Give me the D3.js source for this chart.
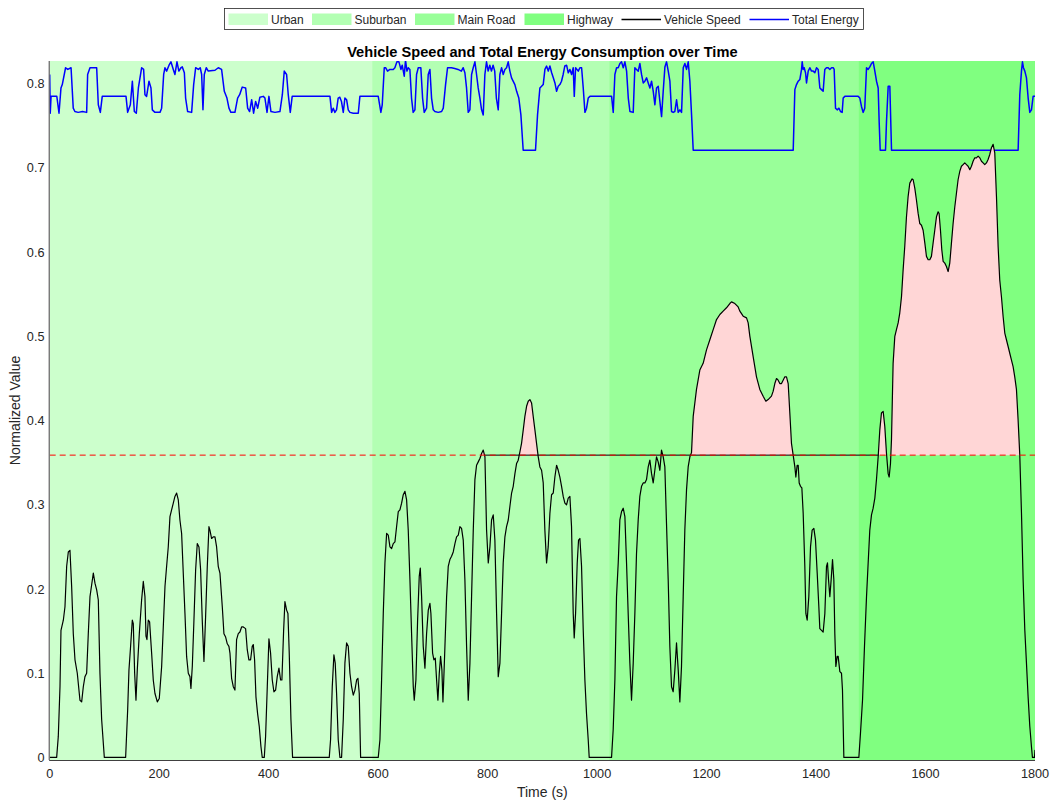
<!DOCTYPE html>
<html>
<head>
<meta charset="utf-8">
<script src="https://cdn.jsdelivr.net/npm/d3@7"></script>
<style>
  html, body { margin: 0; padding: 0; background: #fff; }
  svg { display: block; font-family: "Liberation Sans", Arial, Helvetica, sans-serif; }
</style>
</head>
<body>
<svg id="chart" width="1054" height="801"></svg>
<script>
// Driving zones along the trip
const zoneNames  = ["Urban", "Suburban", "Main Road", "Highway"];
const zoneStart  = [0, 589, 1022, 1477];
const zoneEnd    = [589, 1022, 1477, 1800];
const zoneColors = ["#ccffcc", "#b3ffb3", "#99ff99", "#80ff80"];

// Speed threshold (normalized)
const speedThreshold = 0.359;
const thresholdOutlineSpan = [795, 1514];

// Normalized vehicle speed
const speedTime = [0,12.7,15.7,18.8,20.6,24.9,27.9,31,34,37,40.1,43.1,46.2,50.4,55.3,58.4,61.4,64.4,67.5,70.5,73.6,79.7,82.7,85.8,88.8,91.8,94.9,99.8,
138.7,142.4,144.8,147.8,150.9,152.7,155.2,157.6,160,163.7,167.9,171,174,175.9,177.7,180.1,182.5,186.2,189.2,192.3,196.6,200.2,204.5,207.5,210.6,213.6,216.6,219.7,222.7,225.8,228.8,231.9,234.9,237.9,241,244,247.1,250.1,253.2,256.2,258,260.5,263.5,266.6,269.6,272.7,275.7,278.7,281.8,284.8,287.9,290.9,292.7,295.8,298.8,301.9,304.9,307.9,311,315.3,318.3,321.4,324.4,327.4,329.3,332.3,335.4,338.4,341.4,344.5,347.5,350.6,353.6,357.9,360.9,363.9,367,370,371.9,374.3,376.8,379.8,382.8,385.9,388.3,
392,394.4,397.5,400.5,403.5,406.6,409.6,412.7,415.7,418.8,421.8,424.2,427.3,429.7,432.8,435.2,437.6,440.7,443.7,
510.7,513.1,516.2,519.2,521.6,524.1,527.1,530.2,533.2,536.3,539.3,542.4,545.4,548.5,551.5,554.6,557.6,560.7,563.1,565.5,568,
600.2,603.3,606.3,609.4,612.4,615.5,618.5,621.6,624.6,627.6,630.7,633.7,636.8,639.8,642.9,645.9,649,652,655,658.1,661.1,664.2,666,669,672.1,675.1,677,679.4,682.4,685.5,688.5,691.6,694.6,696.4,699.5,701.9,704.4,706.8,709.2,711.7,714.1,716.5,718.4,721.4,725.1,728.1,731.1,734.2,737.2,740.3,743.3,746.4,749.4,752.4,755.5,758.5,761.6,764.6,767.7,770.7,773.8,776.8,779.8,782.9,785.9,789,792,795.1,798.1,801.2,804.2,807.2,810.3,813.3,816.4,819.4,822.5,825.5,828.5,831.6,834.6,837.7,840.7,843.8,846.8,849.9,852.9,855.9,859,862,865.1,868.1,871.2,874.2,877.3,880.3,883.3,886.4,889.4,892.5,895.5,898.6,901.6,904.6,907.7,910.7,913.8,916.8,919.9,922.9,926,929,932,935.1,938.1,941.2,944.2,947.3,950.3,953.3,956.4,958.2,960.7,963.7,966.1,968.6,971.6,974.7,977.7,980.7,983.8,985.6,
1026.4,1029.4,1032.5,1035.5,1038.6,1041.6,1044.7,1047.7,1050.8,1053.8,1056.8,1059.9,1062.9,1066,1069,1072,1075.1,1078.1,1081.2,1084.2,1087.3,1090.3,1093.4,1096.4,1099.5,1102.5,1105.5,1108.6,1111.6,1114.7,1117.7,1120.8,1123.8,1126.8,1129.9,1132.9,1136,1139,1142.1,1145.1,1148.2,1151.2,1154.2,1157.3,1160.3,1163.4,1166.4,1169.5,
1172.5,1175.6,1181.6,1187.7,1193.8,1199.9,1206,1212.1,1218.2,1224.3,1230.3,1236.4,1242.5,1245.6,1251.7,1257.7,1260.8,1266.9,1273,1276,1279.1,1285.1,1291.2,1297.3,1303.4,1308.3,1312.5,1318.6,1321.7,1324.7,1327.8,1330.8,1333.8,1336.9,1339.9,1343,1346,1349.1,1352.1,1355.1,1358.2,
1361.3,1363.1,1365.5,1367.4,1369.2,1371.6,1374.1,1376.5,1379.5,1381.4,1383.8,1386.8,1389.9,1392.9,1396,1399,1402.1,1405.1,1406.9,1410,1413,1416.1,1419.1,1420.9,1422.8,1425.2,1427.6,1430.1,1432.5,1434.3,1436.2,1438.6,1440.4,1443.5,1446.5,1448.3,1450.8,
1478.2,1481.2,1484.9,1488.5,1492.2,1495.2,1498.2,1501.3,1504.3,1507.4,1510.4,1513.5,1516.5,1519.5,1522.6,1525.6,1528.7,1531.7,1533.6,1536,1537.8,
1540.8,1543.9,1546.9,1550,1553,1556.1,1559.1,1562.1,1565.2,1568.2,1571.3,1575.5,1577.4,1580.4,1583.4,1586.5,1589.5,1592.6,1595.6,1598.7,1601.7,1604.8,1607.8,1610.8,1613.9,1616.9,1620,1623,1624.8,1627.3,1629.7,1632.2,1635.2,1638.2,1641.3,1644.3,1647.4,1650.4,1653.5,1656.5,1659.5,1662.6,1665.6,1668.7,1671.7,1674.8,1677.8,1680.9,1683.9,1686.9,1690,1693,1696.1,1699.1,1702.2,1705.2,1708.2,1711.3,1714.3,1717.4,1720.4,1723.5,1726.5,1729.6,1732.6,1735.6,1738.7,1741.7,1744.8,1747.8,1750.9,1753.9,1756.9,1760,1763,1766.1,1769.1,1772.2,
1775.3,1778.3,1781.4,1784.4,1787.4,1790.5,1793.5,1795.3,1799,1800];

const speedValue = [0,0,0.025,0.084,0.151,0.163,0.179,0.227,0.244,0.246,0.203,0.147,0.116,0.100,0.068,0.066,0.084,0.096,0.100,0.147,0.191,0.219,0.207,0.199,0.187,0.100,0.045,0,
0,0.056,0.104,0.132,0.163,0.159,0.100,0.068,0.104,0.147,0.187,0.209,0.191,0.144,0.140,0.163,0.161,0.124,0.092,0.076,0.066,0.070,0.108,0.155,0.203,0.227,0.250,0.286,0.294,0.302,0.310,0.314,0.306,0.282,0.266,0.219,0.171,0.120,0.100,0.096,0.082,0.108,0.163,0.223,0.254,0.250,0.223,0.163,0.114,0.167,0.227,0.274,0.270,0.260,0.262,0.262,0.250,0.227,0.219,0.179,0.147,0.143,0.135,0.132,0.124,0.094,0.084,0.080,0.140,0.147,0.149,0.155,0.155,0.153,0.128,0.116,0.116,0.132,0.134,0.116,0.072,0.052,0.037,0.013,0,
0,0.025,0.084,0.141,0.124,0.092,0.078,0.080,0.096,0.106,0.092,0.092,0.150,0.185,0.175,0.171,0.124,0.045,0,
0,0.021,0.084,0.122,0.112,0.076,0.021,0,0,0.045,0.112,0.136,0.132,0.100,0.084,0.074,0.080,0.092,0.094,0.076,0,
0,0.021,0.092,0.171,0.231,0.266,0.264,0.250,0.248,0.254,0.256,0.274,0.292,0.294,0.302,0.312,0.316,0.306,0.270,0.211,0.147,0.084,0.068,0.092,0.163,0.215,0.225,0.191,0.132,0.106,0.147,0.175,0.183,0.171,0.124,0.116,0.118,0.092,0.068,0.100,0.120,0.104,0.066,0.120,0.191,0.227,0.235,0.239,0.244,0.254,0.262,0.264,0.274,0.272,0.258,0.211,0.132,0.068,0.112,0.191,0.270,0.330,0.347,0.351,0.355,0.361,0.365,0.357,0.270,0.231,0.250,0.282,0.288,0.258,0.171,0.096,0.112,0.171,0.231,0.262,0.274,0.282,0.298,0.314,0.322,0.337,0.349,0.353,0.363,0.373,0.389,0.405,0.417,0.423,0.425,0.421,0.405,0.389,0.373,0.357,0.345,0.341,0.326,0.270,0.231,0.250,0.290,0.312,0.314,0.333,0.347,0.341,0.333,0.322,0.310,0.302,0.300,0.308,0.310,0.274,0.171,0.142,0.171,0.231,0.258,0.260,0.227,0.151,0.092,0.052,0.021,0,
0,0.033,0.092,0.191,0.231,0.282,0.292,0.296,0.286,0.231,0.171,0.112,0.068,0.112,0.171,0.242,0.282,0.310,0.322,0.326,0.326,0.330,0.345,0.353,0.337,0.326,0.341,0.357,0.351,0.341,0.365,0.357,0.345,0.278,0.211,0.132,0.084,0.078,0.104,0.136,0.104,0.066,0.108,0.191,0.270,0.318,0.345,0.357,
0.362,0.405,0.437,0.460,0.468,0.484,0.496,0.508,0.520,0.526,0.530,0.534,0.539,0.541,0.539,0.535,0.530,0.524,0.522,0.516,0.500,0.476,0.452,0.437,0.429,0.423,0.425,0.429,0.435,0.444,0.450,0.448,0.444,0.444,0.448,0.452,0.452,0.444,0.409,0.373,0.359,
0.345,0.333,0.347,0.347,0.326,0.322,0.320,0.290,0.227,0.171,0.163,0.191,0.250,0.270,0.272,0.258,0.219,0.179,0.153,0.151,0.149,0.171,0.227,0.231,0.211,0.191,0.211,0.235,0.211,0.147,0.108,0.120,0.120,0.102,0.100,0.080,0,
0,0.029,0.068,0.132,0.191,0.231,0.270,0.288,0.296,0.308,0.330,0.357,0.389,0.409,0.411,0.393,0.361,0.337,0.333,0.349,0.377,
0.468,0.500,0.508,0.516,0.528,0.547,0.579,0.607,0.642,0.666,0.682,0.687,0.686,0.676,0.662,0.646,0.634,0.632,0.626,0.611,0.595,0.591,0.591,0.595,0.611,0.626,0.642,0.648,0.646,0.626,0.603,0.589,0.587,0.583,0.577,0.587,0.611,0.634,0.654,0.670,0.686,0.696,0.702,0.704,0.706,0.704,0.702,0.698,0.702,0.708,0.712,0.712,0.714,0.712,0.708,0.706,0.704,0.706,0.710,0.716,0.724,0.728,0.718,0.666,0.607,0.567,0.547,0.524,0.504,0.496,0.488,0.480,0.472,0.464,0.452,0.437,0.401,0.359,
0.290,0.211,0.151,0.112,0.072,0.037,0.013,0,0,0.009];

// Normalized total energy consumption
const energyTime = [0,1,2.5,13,17,20.6,23,29,33,39,43,46,52,60,67.5,69.3,73.6,85.8,88.8,92.5,96,139.4,142.4,147.3,151,154.6,158.2,162,168,171.6,174,177,181.4,185,187.5,192.3,201.5,204.5,208.2,210.6,213.6,218,221.5,225.8,228.8,232.5,236,239.8,242.3,246,248.3,252,259.3,263,266.6,271.5,275,277.6,280,282.4,286,289.7,302,308,314,319,323.8,327.5,331,338.4,343.3,347,351.8,358,361.6,365.2,369,372.5,376.2,380,384,390.2,393.2,397,400.5,404.2,411.5,420.6,425,428.5,432.8,435.8,439.5,443,
512,515,518,521,524,527,530,533,536.3,539.3,542.4,545.4,548.5,554.5,563.7,566.7,600.2,605,607.5,611.2,613.6,617.2,621.5,627.6,630.6,634.3,638,641.6,644,647.7,650,652.6,655,658,661,664,667.2,670.2,673.3,678,681.2,684.2,688.5,691.5,694.6,697.6,700.7,703.7,709.8,716,719,723.2,726.8,734,740,746,752,755.4,758.5,761.5,764.6,767.6,770.7,773.7,776.8,779.8,782.8,785.9,789,792,795,798,801,804,807,810,813,816,819.4,822.4,825.5,828.5,831.5,834.6,837.6,840.7,843.7,849.8,853,857,860.8,865,887.5,891.2,895.5,901.6,
904.7,907.7,910.8,913.8,917,920,923,926,929,932,935,938,941,944.3,947.3,950.4,953.4,956.4,958.3,960.7,965.6,968.6,971.7,974.7,977.8,980.8,983.8,987,1026.5,1029.5,1032.5,1035.6,1038.6,1041.7,1044.7,1047.8,1050.8,1053.9,1057,1060,1066,1069,1072,1075.2,1078.2,1081.2,1084.3,1087.3,1090.4,1093.4,1096.5,1099.5,1102.6,1105.6,1108.6,1111.7,1114.7,1117.8,1120.8,1123.9,1126.9,1130,1133,1136,1139,1142,1145.2,1148.2,1151.3,1154.3,1157.4,1160.4,1163.4,1166.5,1169.5,1172.6,1175.6,1358.3,
1361.3,1364.3,1367.4,1370.4,1373.5,1374.7,1376.5,1378.3,1380.8,1382.6,1385.7,1388.7,1391.7,1394.8,1397.8,1400.9,1403.9,1407,1410,1413,1416,1419,1422.2,1425.2,1428.3,1431.3,1433.1,1435.6,1438.6,1441.7,1444.7,1447.7,1449.6,1452.6,1477,1480,1483,1486,1489,1492.2,1495.2,1498.3,1501.3,1504.4,1507.4,1510.5,1513.5,1515.3,1517.2,1526.9,1528.7,1531.8,1534.8,1537.9,1769.2,1772.2,1775.3,1777.1,1778.9,1781.4,1784.4,1787.5,1790.5,1793.5,1796.6,1800];

const energyValue = [0.811,0.765,0.785,0.785,0.765,0.795,0.799,0.819,0.817,0.819,0.771,0.767,0.766,0.767,0.766,0.811,0.819,0.819,0.775,0.766,0.785,0.785,0.766,0.775,0.803,0.767,0.765,0.795,0.819,0.817,0.787,0.785,0.803,0.795,0.769,0.766,0.766,0.771,0.811,0.819,0.815,0.822,0.826,0.817,0.811,0.826,0.815,0.819,0.820,0.813,0.783,0.767,0.766,0.799,0.819,0.817,0.819,0.811,0.769,0.811,0.819,0.815,0.816,0.819,0.817,0.791,0.783,0.771,0.766,0.766,0.783,0.787,0.796,0.795,0.771,0.767,0.781,0.765,0.779,0.771,0.784,0.785,0.783,0.766,0.785,0.767,0.766,0.767,0.787,0.815,0.811,0.787,0.766,0.785,
0.785,0.766,0.771,0.766,0.769,0.783,0.784,0.779,0.766,0.783,0.781,0.769,0.766,0.765,0.765,0.785,0.785,0.766,0.775,0.819,0.819,0.815,0.817,0.817,0.819,0.826,0.826,0.817,0.822,0.809,0.828,0.815,0.819,0.817,0.783,0.766,0.769,0.811,0.819,0.819,0.783,0.766,0.771,0.811,0.817,0.783,0.769,0.767,0.766,0.767,0.771,0.799,0.819,0.819,0.818,0.817,0.815,0.819,0.813,0.795,0.766,0.769,0.811,0.819,0.826,0.811,0.795,0.783,0.769,0.763,0.811,0.826,0.815,0.822,0.815,0.822,0.815,0.783,0.769,0.811,0.819,0.811,0.817,0.819,0.826,0.815,0.807,0.799,0.791,0.783,0.763,0.721,0.721,0.763,0.795,0.799,
0.817,0.821,0.815,0.821,0.813,0.807,0.801,0.791,0.797,0.799,0.803,0.811,0.821,0.822,0.813,0.817,0.811,0.819,0.785,0.819,0.815,0.819,0.819,0.795,0.766,0.771,0.783,0.785,0.785,0.766,0.811,0.819,0.819,0.824,0.826,0.819,0.826,0.815,0.783,0.767,0.766,0.819,0.817,0.815,0.824,0.811,0.801,0.803,0.807,0.801,0.795,0.803,0.791,0.775,0.795,0.797,0.779,0.761,0.791,0.820,0.826,0.815,0.803,0.767,0.766,0.767,0.781,0.766,0.769,0.766,0.819,0.824,0.817,0.826,0.803,0.763,0.721,0.721,
0.793,0.799,0.803,0.805,0.817,0.826,0.817,0.819,0.813,0.801,0.815,0.819,0.815,0.815,0.813,0.819,0.817,0.795,0.793,0.791,0.817,0.819,0.819,0.817,0.819,0.819,0.817,0.771,0.769,0.771,0.767,0.766,0.783,0.785,0.785,0.783,0.773,0.766,0.771,0.819,0.817,0.820,0.824,0.826,0.815,0.803,0.795,0.755,0.721,0.721,0.755,0.797,0.797,0.721,0.721,0.787,0.815,0.826,0.819,0.815,0.807,0.783,0.766,0.769,0.785,0.785];

// Axis ticks
const xTicks = [0, 200, 400, 600, 800, 1000, 1200, 1400, 1600, 1800];
const yTicks = [0, 0.1, 0.2, 0.3, 0.4, 0.5, 0.6, 0.7, 0.8];

const svg = d3.select("#chart");
const plot = { left: 49.7, right: 1035, top: 61, bottom: 760 };

const x = d3.scaleLinear().domain([0, 1800]).range([plot.left, plot.right]);
const y = d3.scaleLinear().domain([-0.003, 0.827]).range([plot.bottom, plot.top]);

const speed = speedTime.map((t, i) => ({ t, v: speedValue[i] }));
const energy = energyTime.map((t, i) => ({ t, v: energyValue[i] }));

svg.append("defs").append("clipPath").attr("id", "plotClip")
  .append("rect")
  .attr("x", plot.left).attr("y", plot.top)
  .attr("width", plot.right - plot.left).attr("height", plot.bottom - plot.top);

const g = svg.append("g").attr("clip-path", "url(#plotClip)");

// Zone backgrounds
g.selectAll("rect.zone")
  .data(zoneNames.map((n, i) => ({ n, s: zoneStart[i], e: zoneEnd[i], c: zoneColors[i] })))
  .join("rect")
  .attr("class", "zone")
  .attr("x", d => x(d.s))
  .attr("width", d => x(d.e) - x(d.s))
  .attr("y", plot.top)
  .attr("height", plot.bottom - plot.top)
  .attr("fill", d => d.c);

// Total energy line
g.append("path")
  .datum(energy)
  .attr("fill", "none")
  .attr("stroke", "#0000ff")
  .attr("stroke-width", 1.5)
  .attr("stroke-linejoin", "round")
  .attr("d", d3.line().x(d => x(d.t)).y(d => y(d.v)));

// Over-threshold region: insert crossing points so the fill meets the threshold exactly
const overPts = [];
for (let i = 0; i < speed.length; i++) {
  overPts.push(speed[i]);
  if (i < speed.length - 1) {
    const a = speed[i], b = speed[i + 1];
    if ((a.v - speedThreshold) * (b.v - speedThreshold) < 0) {
      const f = (speedThreshold - a.v) / (b.v - a.v);
      overPts.push({ t: a.t + f * (b.t - a.t), v: speedThreshold });
    }
  }
}
g.append("path")
  .datum(overPts)
  .attr("fill", "#ffd6d6")
  .attr("stroke", "none")
  .attr("d", d3.area()
    .x(d => x(d.t))
    .y0(y(speedThreshold))
    .y1(d => y(Math.max(d.v, speedThreshold))));

// Outline along the threshold
g.append("line")
  .attr("x1", x(thresholdOutlineSpan[0])).attr("x2", x(thresholdOutlineSpan[1]))
  .attr("y1", y(speedThreshold)).attr("y2", y(speedThreshold))
  .attr("stroke", "#000").attr("stroke-width", 1);

// Vehicle speed line
g.append("path")
  .datum(speed)
  .attr("fill", "none")
  .attr("stroke", "#000")
  .attr("stroke-width", 1.2)
  .attr("stroke-linejoin", "round")
  .attr("d", d3.line().x(d => x(d.t)).y(d => y(d.v)));

// Threshold line
g.append("line")
  .attr("x1", plot.left).attr("x2", plot.right)
  .attr("y1", y(speedThreshold)).attr("y2", y(speedThreshold))
  .attr("stroke", "#ff0000").attr("stroke-width", 1)
  .attr("stroke-dasharray", "6,4");

// Axes
const axisColor = "#404040";
const textColor = "#262626";
svg.append("line")
  .attr("x1", plot.left - 0.5).attr("x2", plot.left - 0.5)
  .attr("y1", plot.top).attr("y2", plot.bottom)
  .attr("stroke", axisColor).attr("stroke-width", 1);
svg.append("line")
  .attr("x1", plot.left - 0.5).attr("x2", plot.right)
  .attr("y1", plot.bottom + 0.5).attr("y2", plot.bottom + 0.5)
  .attr("stroke", axisColor).attr("stroke-width", 1);

svg.append("g").selectAll("text")
  .data(xTicks).join("text")
  .attr("x", d => x(d)).attr("y", 778)
  .attr("text-anchor", "middle")
  .attr("font-size", 12.7).attr("fill", textColor)
  .text(d => d);

svg.append("g").selectAll("text")
  .data(yTicks).join("text")
  .attr("x", 44.5).attr("y", d => y(d) + 4.5)
  .attr("text-anchor", "end")
  .attr("font-size", 12.7).attr("fill", textColor)
  .text(d => d3.format("")(d));

svg.append("text")
  .attr("x", (plot.left + plot.right) / 2).attr("y", 797)
  .attr("text-anchor", "middle")
  .attr("font-size", 14).attr("fill", textColor)
  .text("Time (s)");

svg.append("text")
  .attr("transform", `translate(20,${(plot.top + plot.bottom) / 2}) rotate(-90)`)
  .attr("text-anchor", "middle")
  .attr("font-size", 14).attr("fill", textColor)
  .text("Normalized Value");

svg.append("text")
  .attr("x", (plot.left + plot.right) / 2).attr("y", 57)
  .attr("text-anchor", "middle")
  .attr("font-size", 14.6).attr("font-weight", "bold").attr("fill", "#000")
  .text("Vehicle Speed and Total Energy Consumption over Time");

// Legend
const legend = svg.append("g");
legend.append("rect")
  .attr("x", 224.5).attr("y", 8.5).attr("width", 639).attr("height", 21)
  .attr("fill", "#fff").attr("stroke", "#262626").attr("stroke-width", 0.8);

const legendItems = [
  { label: zoneNames[0], kind: "patch", color: zoneColors[0], x: 228.5 },
  { label: zoneNames[1], kind: "patch", color: zoneColors[1], x: 312 },
  { label: zoneNames[2], kind: "patch", color: zoneColors[2], x: 415 },
  { label: zoneNames[3], kind: "patch", color: zoneColors[3], x: 524.5 },
  { label: "Vehicle Speed", kind: "line", color: "#000000", x: 621.5 },
  { label: "Total Energy", kind: "line", color: "#0000ff", x: 749.5 }
];
legendItems.forEach(it => {
  if (it.kind === "patch") {
    legend.append("rect")
      .attr("x", it.x).attr("y", 13.5).attr("width", 39.5).attr("height", 11.5)
      .attr("fill", it.color);
  } else {
    legend.append("line")
      .attr("x1", it.x).attr("x2", it.x + 39.5)
      .attr("y1", 19.5).attr("y2", 19.5)
      .attr("stroke", it.color).attr("stroke-width", 1.5);
  }
  legend.append("text")
    .attr("x", it.x + 42.5).attr("y", 23.8)
    .attr("font-size", 12).attr("fill", textColor)
    .text(it.label);
});
</script>
</body>
</html>
